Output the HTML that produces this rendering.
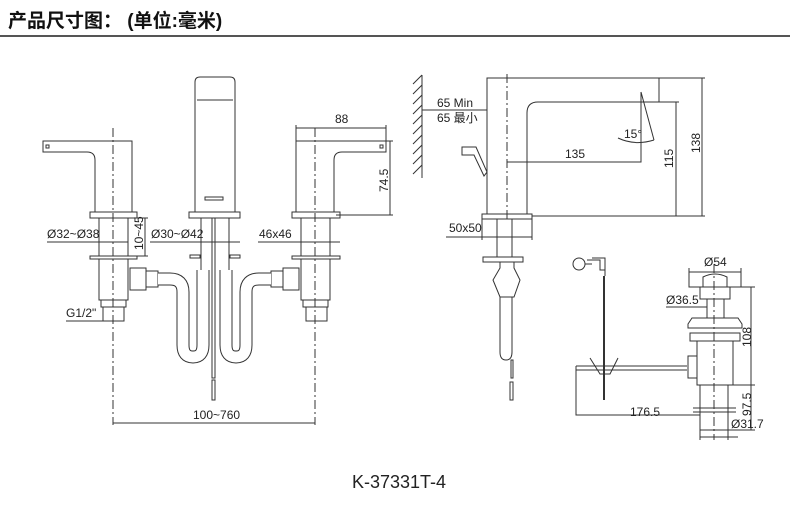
<!DOCTYPE html>
<html><head><meta charset="utf-8"><style>
html,body{margin:0;padding:0;background:#fff;width:790px;height:519px;overflow:hidden}
svg{display:block}
text{font-family:"Liberation Sans",Arial,sans-serif;fill:#222}
</style></head><body>
<svg width="790" height="519" viewBox="0 0 790 519" xmlns="http://www.w3.org/2000/svg">
<text x="8" y="27" style="font-family:'Liberation Sans','Noto Sans CJK SC',sans-serif;font-size:19px;font-weight:bold;fill:#111">产品尺寸图：  (单位:毫米)</text>
<rect x="0" y="35" width="790" height="2" fill="#555"/>

<g fill="none" stroke="#333" stroke-width="1">
<!-- LEFT HANDLE -->
<path d="M43,141 H132 V212 H95 V160 Q95,152 87,152 H43 Z"/>
<rect x="46" y="145" width="3" height="3"/>
<rect x="90" y="212" width="47" height="6"/>
<rect x="99" y="218" width="29" height="38"/>
<rect x="90" y="256" width="47" height="3"/>
<rect x="99" y="259" width="29" height="41"/>
<rect x="101" y="300" width="25" height="7"/>
<rect x="103" y="307" width="21" height="14"/>
<rect x="130" y="268" width="16" height="22"/>
<rect x="146" y="271" width="12" height="16"/>
<line x1="113" y1="128" x2="113" y2="425" stroke-dasharray="9,3,2,3"/>
<!-- RIGHT HANDLE -->
<path d="M386,141 H296 V212 H334 V160 Q334,152 342,152 H386 Z"/>
<rect x="380" y="145" width="3" height="3"/>
<rect x="292" y="212" width="48" height="6"/>
<rect x="301" y="218" width="29" height="38"/>
<rect x="292" y="256" width="48" height="3"/>
<rect x="301" y="259" width="29" height="41"/>
<rect x="303" y="300" width="25" height="7"/>
<rect x="306" y="307" width="21" height="14"/>
<rect x="283" y="268" width="16" height="22"/>
<rect x="271" y="271" width="12" height="16"/>
<line x1="315" y1="128" x2="315" y2="425" stroke-dasharray="9,3,2,3"/>
<!-- SPOUT -->
<path d="M195,212 V82 Q195,77 200,77 H230 Q235,77 235,82 V212"/>
<line x1="197" y1="100" x2="233" y2="100"/>
<rect x="205" y="197" width="18" height="3"/>
<rect x="189" y="212" width="51" height="6"/>
<line x1="201" y1="218" x2="201" y2="300"/><line x1="229" y1="218" x2="229" y2="300"/>
<rect x="190" y="255" width="10" height="3"/><rect x="230" y="255" width="10" height="3"/>
<rect x="212" y="218" width="3" height="160"/><rect x="212" y="380" width="3" height="20"/>
<!-- HOSES -->
<g stroke-width="13" stroke="#333"><path d="M158,279 H170 Q183,279 183,292 V345 Q183,357 193,357 Q203,357 203,345 V270"/><path d="M271,279 H259 Q246,279 246,292 V345 Q246,357 236,357 Q226,357 226,345 V270"/></g>
<g stroke-width="11" stroke="#fff"><path d="M158,279 H170 Q183,279 183,292 V345 Q183,357 193,357 Q203,357 203,345 V270"/><path d="M271,279 H259 Q246,279 246,292 V345 Q246,357 236,357 Q226,357 226,345 V270"/></g>

<!-- dims left view -->
<path d="M296,128 H386 M296,125 V141 M386,125 V141"/>
<path d="M380,141 H393 M336,215 H393 M390,141 V215"/>
<path d="M113,423 H315"/>
<path d="M47,242 H128 M136,218 H148 M136,256 H148 M145,218 V256"/>
<path d="M150,242 H240"/>
<path d="M258,242 H340"/>
<path d="M66,321 H124"/>

<!-- SIDE VIEW -->
<line x1="422" y1="75" x2="422" y2="178"/>
<path d="M413,84 L422,75 M413,94 L422,85 M413,104 L422,95 M413,114 L422,105 M413,124 L422,115 M413,134 L422,125 M413,144 L422,135 M413,154 L422,145 M413,164 L422,155 M413,174 L422,165"/>
<path d="M487,214 V78 H659 V102 H538 Q527,102 527,113 V214"/>
<line x1="507" y1="74" x2="507" y2="222" stroke-dasharray="9,3,2,3"/>
<path d="M462,147 H476 L487,172 L484,176 L474,155 H462 Z"/>
<path d="M659,78 H705 M659,102 H679 M532,216 H705"/>
<path d="M702,78 V216 M676,102 V216"/>
<path d="M422,110 H487"/>
<path d="M507,162 H641 V92"/>
<path d="M641,92 L654,140"/>
<path d="M618,138 Q635,146 654,140"/>
<rect x="482" y="214" width="50" height="5"/>
<path d="M446,237 H532 M482,219 V240 M532,219 V240"/>
<line x1="497" y1="219" x2="497" y2="257"/><line x1="512" y1="219" x2="512" y2="257"/>
<rect x="483" y="257" width="40" height="5"/>
<path d="M500,262 V268 L493,280 L500,297 H514 L520,280 L514,268 V262"/>
<path d="M500,297 V352 Q500,360 506,360 Q512,360 512,352 V297"/>
<rect x="511" y="360" width="2" height="18"/><rect x="510" y="382" width="3" height="18"/>

<!-- DRAIN -->
<circle cx="579" cy="264" r="6"/>
<path d="M585,264 H592 M592,258 H605 V276 M587,260 H600 V270 H605"/>
<line x1="604" y1="276" x2="604" y2="400" stroke-width="2"/>
<path d="M576,366 H687 M576,370 H687"/>
<path d="M590,358 L600,374 H610 L618,358"/>
<rect x="689" y="272" width="52" height="15"/>
<path d="M703,287 V277 Q715,271 727,277 V287"/>
<rect x="700" y="287" width="30" height="12"/>
<rect x="707" y="299" width="17" height="19"/>
<path d="M692,318 H738 L742,324 V328 H688 V324 Z"/>
<rect x="690" y="333" width="50" height="8"/>
<rect x="697" y="341" width="36" height="44"/>
<rect x="688" y="356" width="9" height="22"/>
<rect x="700" y="385" width="28" height="45"/>
<path d="M693,408 H736 M693,412 H736"/>
<line x1="714" y1="264" x2="714" y2="440" stroke-dasharray="9,3,2,3"/>
<path d="M689,268 V275 M741,268 V275 M689,272 H741"/>
<path d="M666,307 H707"/>
<path d="M741,287 H755 M733,385 H755 M728,430 H755 M751,287 V430"/>
<path d="M576,366 V415 H700 M700,430 V440 M728,430 V440 M700,437 H738"/>
</g>

<g font-size="12">
<text x="335" y="123">88</text>
<text x="0" y="0" transform="translate(388,192) rotate(-90)">74.5</text>
<text x="47" y="238">Ø32~Ø38</text>
<text x="0" y="0" transform="translate(143,250) rotate(-90)">10~45</text>
<text x="151" y="238">Ø30~Ø42</text>
<text x="259" y="238">46x46</text>
<text x="66" y="317">G1/2"</text>
<text x="193" y="419">100~760</text>
<text x="437" y="107">65 Min</text>
<text x="437" y="122" style="font-family:'Liberation Sans','Noto Sans CJK SC',sans-serif">65 最小</text>
<text x="565" y="158">135</text>
<text x="624" y="138">15°</text>
<text x="0" y="0" transform="translate(673,168) rotate(-90)">115</text>
<text x="0" y="0" transform="translate(700,153) rotate(-90)">138</text>
<text x="449" y="232">50x50</text>
<text x="704" y="266">Ø54</text>
<text x="666" y="304">Ø36.5</text>
<text x="0" y="0" transform="translate(751,347) rotate(-90)">108</text>
<text x="0" y="0" transform="translate(751,416) rotate(-90)">97.5</text>
<text x="630" y="416">176.5</text>
<text x="731" y="428">Ø31.7</text>
</g>
<text x="352" y="488" font-size="18">K-37331T-4</text>
</svg>
</body></html>
